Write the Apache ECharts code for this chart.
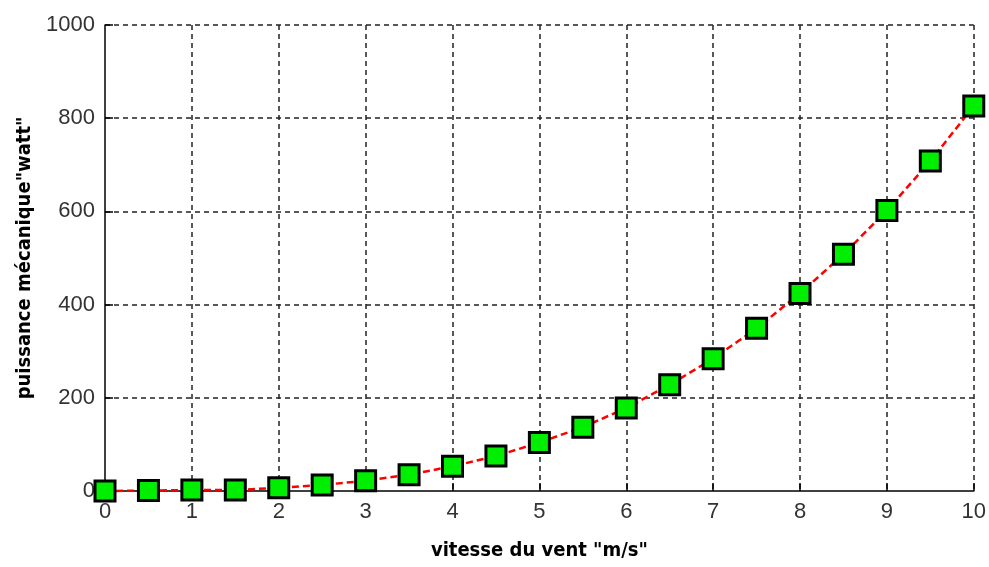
<!DOCTYPE html>
<html>
<head>
<meta charset="utf-8">
<script src="https://cdn.jsdelivr.net/npm/echarts@6/dist/echarts.min.js"></script>
<style>html,body{margin:0;padding:0;background:#fff}#c{width:989px;height:567px}</style>
</head>
<body>
<div id="c"></div>
<script>
const vitesse = [0, 0.5, 1, 1.5, 2, 2.5, 3, 3.5, 4, 4.5, 5, 5.5, 6, 6.5, 7, 7.5, 8, 8.5, 9, 9.5, 10];
const puissance = [0, 1, 2, 2, 7, 13, 22, 35, 53, 75, 104, 137, 178, 228, 284, 349, 424, 508, 602, 708, 826];
const xTitle = 'vitesse du vent "m/s"';
const yTitle = 'puissance mécanique"watt"';

const chart = echarts.init(document.getElementById('c'), null, {renderer: 'canvas'});
const tickFont = {fontFamily: 'Liberation Sans', fontSize: 22, color: '#333'};
const titleFont = {fontFamily: '"DejaVu Sans Condensed", "Liberation Sans", sans-serif', fontWeight: 'bold', fontSize: 20, color: '#000'};
const gridLine = {show: true, showMinLine: false, lineStyle: {color: '#222', type: [5, 4], width: 1.5}};
chart.setOption({
  animation: false,
  backgroundColor: '#fff',
  grid: {left: 105, right: 12, top: 25, bottom: 76},
  xAxis: {
    type: 'value', min: 0, max: 10, interval: 1,
    name: xTitle, nameLocation: 'middle', nameGap: 50, nameTextStyle: titleFont,
    axisLine: {show: true, onZero: false, lineStyle: {color: '#000', width: 1.5}},
    axisTick: {show: true, inside: true, length: 8, lineStyle: {color: '#000', width: 1.5}},
    axisLabel: Object.assign({margin: 10, formatter: v => String(v)}, tickFont),
    splitLine: gridLine
  },
  yAxis: {
    type: 'value', min: 0, max: 1000, interval: 200,
    name: yTitle, nameLocation: 'middle', nameGap: 68, nameTextStyle: titleFont,
    axisLine: {show: true, lineStyle: {color: '#000', width: 1.5}},
    axisTick: {show: true, inside: true, length: 8, lineStyle: {color: '#000', width: 1.5}},
    axisLabel: Object.assign({margin: 10, formatter: v => String(v)}, tickFont),
    splitLine: gridLine
  },
  series: [{
    type: 'line',
    data: vitesse.map((v, i) => [v, puissance[i]]),
    smooth: false,
    lineStyle: {color: '#ff0000', width: 2.5, type: [7, 4]},
    symbol: 'rect', symbolSize: 20,
    itemStyle: {color: '#00ee00', borderColor: '#000', borderWidth: 3},
    clip: false,
    z: 5
  }]
});
</script>
</body>
</html>
